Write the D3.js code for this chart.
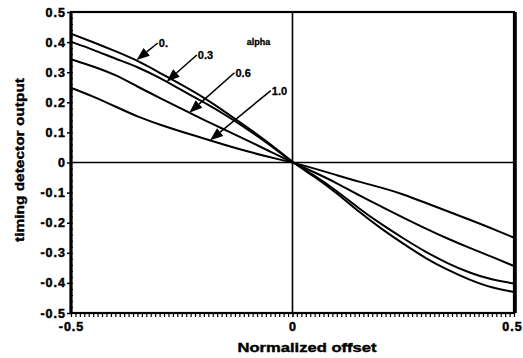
<!DOCTYPE html>
<html>
<head>
<meta charset="utf-8">
<script src="https://cdn.jsdelivr.net/npm/d3@7"></script>
<style>
  body { margin: 0; background: #fff; }
  text { font-family: "Liberation Sans", Arial, sans-serif; font-weight: bold; fill: #000; }
</style>
</head>
<body>
<div id="chart"></div>
<script>
// normalized offset samples
var offsets = [-0.5, -0.45, -0.4, -0.35, -0.3, -0.25, -0.2, -0.15, -0.1, -0.05, 0,
               0.05, 0.1, 0.15, 0.2, 0.25, 0.3, 0.35, 0.4, 0.45, 0.5];

// timing detector output, one list per alpha
var alpha0  = [0.428, 0.400, 0.370, 0.339, 0.298, 0.258, 0.216, 0.166, 0.115, 0.062, 0,
               -0.047, -0.102, -0.164, -0.220, -0.270, -0.318, -0.357, -0.390, -0.417, -0.430];
var alpha03 = [0.401, 0.375, 0.345, 0.318, 0.282, 0.240, 0.200, 0.157, 0.109, 0.058, 0,
               -0.043, -0.094, -0.153, -0.205, -0.252, -0.297, -0.335, -0.367, -0.390, -0.402];
var alpha06 = [0.343, 0.320, 0.292, 0.252, 0.215, 0.178, 0.141, 0.107, 0.072, 0.036, 0,
               -0.033, -0.068, -0.109, -0.146, -0.183, -0.219, -0.253, -0.284, -0.313, -0.344];
var alpha10 = [0.248, 0.220, 0.186, 0.152, 0.126, 0.102, 0.080, 0.057, 0.036, 0.017, 0,
               -0.020, -0.042, -0.064, -0.083, -0.105, -0.134, -0.162, -0.190, -0.219, -0.250];

var seriesList = [alpha0, alpha03, alpha06, alpha10];
var alphaLabels = ["0.", "0.3", "0.6", "1.0"];

// arrow annotations (data units): where the arrow touches the curve, and where its tail/label sits
var arrowTipX = [-0.352, -0.284, -0.233, -0.186];
var arrowTailX = [-0.304, -0.216, -0.131, -0.049];
var arrowTailY = [0.397, 0.357, 0.298, 0.239];

var yTicks = [0.5, 0.4, 0.3, 0.2, 0.1, 0, -0.1, -0.2, -0.3, -0.4, -0.5];
var xTicks = [-0.5, 0, 0.5];

var width = 523, height = 358;

var x = d3.scaleLinear().domain([-0.5, 0.5]).range([71, 514]);
var y = d3.scaleLinear().domain([-0.5, 0.5]).range([313, 12]);

var svg = d3.select("#chart").append("svg")
    .attr("width", width)
    .attr("height", height);

// zero cross lines
svg.append("line")
    .attr("x1", x(-0.5)).attr("x2", x(0.5))
    .attr("y1", y(0)).attr("y2", y(0))
    .attr("stroke", "#000").attr("stroke-width", 1.6);
svg.append("line")
    .attr("x1", x(0)).attr("x2", x(0))
    .attr("y1", y(0.5)).attr("y2", y(-0.5))
    .attr("stroke", "#000").attr("stroke-width", 1.6);

// minor ticks along the bottom (every 0.01)
var minorX = d3.range(-50, 51).map(function(i) { return i / 100; });
svg.append("g")
    .attr("transform", "translate(0," + y(-0.5) + ")")
    .call(d3.axisBottom(x).tickValues(minorX).tickSize(4).tickFormat(""))
    .call(function(g) { g.select(".domain").remove(); })
    .selectAll("line").attr("stroke", "#000").attr("stroke-width", 1.2);

// minor ticks inside the left edge
var minorY = d3.range(-25, 26).map(function(i) { return i / 50; });
svg.append("g")
    .attr("transform", "translate(" + x(-0.5) + ",0)")
    .call(d3.axisRight(y).tickValues(minorY).tickSize(2).tickFormat(""))
    .call(function(g) { g.select(".domain").remove(); })
    .selectAll("line").attr("stroke", "#000");

function heavy(sel, size) {
    sel.style("font-size", size)
        .style("font-family", "'Liberation Sans', Arial, sans-serif")
        .style("font-weight", "bold")
        .attr("stroke", "#000")
        .attr("stroke-width", 0.5)
        .attr("letter-spacing", "1px");
}

// y axis
var yAxis = svg.append("g")
    .attr("transform", "translate(" + x(-0.5) + ",0)")
    .call(d3.axisLeft(y).tickValues(yTicks).tickSize(4).tickPadding(1)
        .tickFormat(function(d) { return String(d); }));
yAxis.select(".domain").remove();
yAxis.selectAll("line").attr("stroke", "#000").attr("stroke-width", 1.5);
yAxis.selectAll("text").call(heavy, "12.5px");

// x axis labels
var xAxis = svg.append("g")
    .attr("transform", "translate(0," + y(-0.5) + ")")
    .call(d3.axisBottom(x).tickValues(xTicks).tickSize(4).tickPadding(5)
        .tickFormat(function(d) { return String(d); }));
xAxis.select(".domain").remove();
xAxis.selectAll("line").attr("stroke", "#000");
xAxis.selectAll("text").call(heavy, "12.5px");
xAxis.selectAll(".tick:last-of-type text").attr("dx", "-2");

// frame
svg.append("rect")
    .attr("x", x(-0.5)).attr("y", y(0.5))
    .attr("width", x(0.5) - x(-0.5))
    .attr("height", y(-0.5) - y(0.5))
    .attr("fill", "none")
    .attr("stroke", "#000")
    .attr("stroke-width", 2.2);
svg.append("line")
    .attr("x1", x(-0.5)).attr("x2", x(-0.5))
    .attr("y1", y(0.5)).attr("y2", y(-0.5))
    .attr("stroke", "#000").attr("stroke-width", 3.2);
svg.append("line")
    .attr("x1", x(0.5) + 1).attr("x2", x(0.5) + 1)
    .attr("y1", y(0.5)).attr("y2", y(-0.5))
    .attr("stroke", "#000").attr("stroke-width", 3.6);

// curves
var line = d3.line()
    .x(function(d, i) { return x(offsets[i]); })
    .y(function(d) { return y(d); })
    .curve(d3.curveBasis);

svg.selectAll("path.curve")
    .data(seriesList)
    .enter()
    .append("path")
    .attr("class", "curve")
    .attr("d", line)
    .attr("fill", "none")
    .attr("stroke", "#000")
    .attr("stroke-width", 2);

// value of a series at any offset (linear between samples)
function valueAt(series, xv) {
    var interp = d3.scaleLinear().domain(offsets).range(series);
    return interp(xv);
}

// arrows + alpha labels
alphaLabels.forEach(function(lab, i) {
    var tx = x(arrowTipX[i]), ty = y(valueAt(seriesList[i], arrowTipX[i]));
    var sx = x(arrowTailX[i]), sy = y(arrowTailY[i]);
    var dx = tx - sx, dy = ty - sy, len = Math.sqrt(dx * dx + dy * dy);
    var ux = dx / len, uy = dy / len;
    var headLen = 13, headHalf = 5;
    var bx = tx - ux * headLen, by = ty - uy * headLen;

    svg.append("line")
        .attr("x1", sx).attr("y1", sy)
        .attr("x2", bx).attr("y2", by)
        .attr("stroke", "#000").attr("stroke-width", 1.5);

    svg.append("path")
        .attr("d", "M" + tx + "," + ty +
            "L" + (bx - uy * headHalf) + "," + (by + ux * headHalf) +
            "L" + (bx + uy * headHalf) + "," + (by - ux * headHalf) + "Z")
        .attr("fill", "#000");

    svg.append("text")
        .attr("x", sx + 1)
        .attr("y", sy + 4)
        .attr("stroke", "#000")
        .attr("stroke-width", 0.3)
        .style("font-size", "11px")
        .text(lab);
});

svg.append("text")
    .attr("x", x(-0.103))
    .attr("y", y(0.39))
    .attr("stroke", "#000")
    .attr("stroke-width", 0.3)
    .style("font-size", "9px")
    .text("alpha");

// axis titles
svg.append("text")
    .attr("x", 307)
    .attr("y", 352)
    .attr("text-anchor", "middle")
    .attr("textLength", 139)
    .attr("lengthAdjust", "spacingAndGlyphs")
    .attr("stroke", "#000")
    .attr("stroke-width", 0.4)
    .style("font-size", "13px")
    .text("Normalized offset");

svg.append("text")
    .attr("transform", "translate(24,160) rotate(-90)")
    .attr("text-anchor", "middle")
    .attr("textLength", 164)
    .attr("lengthAdjust", "spacingAndGlyphs")
    .attr("stroke", "#000")
    .attr("stroke-width", 0.4)
    .style("font-size", "13px")
    .text("timing detector output");
</script>
</body>
</html>
